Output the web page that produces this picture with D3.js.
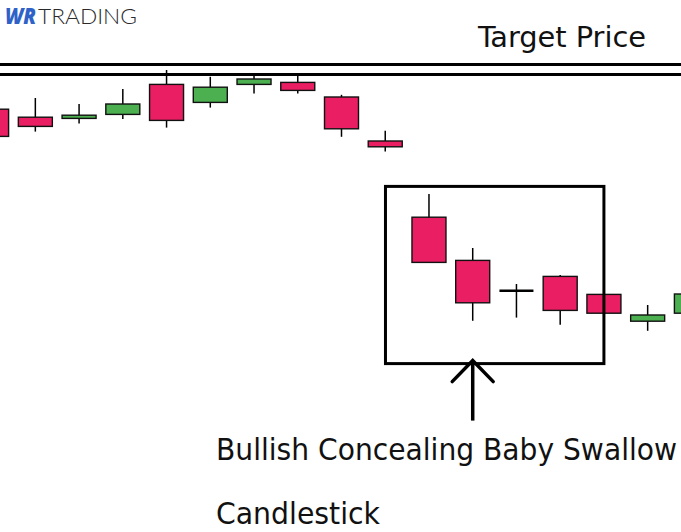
<!DOCTYPE html>
<html>
<head>
<meta charset="utf-8">
<script src="https://cdn.jsdelivr.net/npm/d3@7"></script>
<style>
  html, body { margin: 0; padding: 0; background: #fff; }
  svg { display: block; }
</style>
</head>
<body>
<svg id="chart" width="681" height="532"></svg>
<script>
// Candle sessions (index) and OHLC values in price units
const sessions = [0, 1, 2, 3, 4, 5, 6, 7, 8, 9, 10, 11, 12, 13, 14, 15, 16];
const opens  = [105.7, 103.7, 103.4, 104.4, 111.9, 107.4, 111.9, 112.4, 108.75, 97.75, 78.7, 67.9, 60.3, 63.9, 59.4, 52.7, 54.7];
const closes = [98.9, 101.4, 104.2, 107.0, 102.9, 111.2, 113.25, 110.4, 100.8, 96.3, 67.4, 57.3, 60.3, 55.4, 54.7, 54.25, 59.5];
const highs  = [105.7, 108.5, 107.0, 110.75, 115.5, 113.8, 114.5, 114.5, 109.3, 100.3, 84.5, 71.0, 62.0, 64.25, 59.4, 56.75, 59.5];
const lows   = [98.9, 100.1, 102.1, 103.25, 101.1, 106.1, 109.6, 109.6, 98.8, 95.1, 67.4, 52.8, 53.6, 51.8, 54.7, 50.3, 54.7];
const targetLevels = [116.9, 114.4];
const patternRange = { first: 10, last: 14, high: 86.4, low: 42.1 };
const labels = {
  target: "Target Price",
  pattern: ["Bullish Concealing Baby Swallow", "Candlestick"],
  logo: ["WR", "TRADING"]
};

const W = 681, H = 532;
const svg = d3.select("#chart");
svg.append("rect").attr("width", W).attr("height", H).attr("fill", "#fff");

const x = d3.scaleLinear().domain([0, 16]).range([-8.4, 691.4]);
const y = d3.scaleLinear().domain([0, 133]).range([H, 0]);
const bodyW = 34;
const RED = "#e91e63", GREEN = "#4caf50";

const data = sessions.map((s, i) => ({ s, o: opens[i], c: closes[i], h: highs[i], l: lows[i] }));

const g = svg.append("g");
const cg = g.selectAll("g.candle").data(data).enter().append("g").attr("class", "candle");

// wicks
cg.append("line")
  .attr("x1", d => x(d.s)).attr("x2", d => x(d.s))
  .attr("y1", d => y(d.h)).attr("y2", d => y(d.l))
  .attr("stroke", "#000").attr("stroke-width", 1.5);

// bodies
cg.filter(d => d.o !== d.c).append("rect")
  .attr("x", d => x(d.s) - bodyW / 2)
  .attr("width", bodyW)
  .attr("y", d => y(Math.max(d.o, d.c)))
  .attr("height", d => Math.abs(y(d.o) - y(d.c)))
  .attr("fill", d => d.c > d.o ? GREEN : RED)
  .attr("stroke", "#111").attr("stroke-width", 1.4);

// doji
cg.filter(d => d.o === d.c).append("line")
  .attr("x1", d => x(d.s) - bodyW / 2).attr("x2", d => x(d.s) + bodyW / 2)
  .attr("y1", d => y(d.o)).attr("y2", d => y(d.o))
  .attr("stroke", "#000").attr("stroke-width", 2.4);

// target price lines
svg.selectAll("line.target").data(targetLevels).enter().append("line")
  .attr("class", "target")
  .attr("x1", 0).attr("x2", W)
  .attr("y1", d => y(d)).attr("y2", d => y(d))
  .attr("stroke", "#000").attr("stroke-width", 3);

// pattern box
const bx0 = x(patternRange.first) - bodyW / 2 - 26.5;
const bx1 = x(patternRange.last);
svg.append("rect")
  .attr("x", bx0).attr("y", y(patternRange.high))
  .attr("width", bx1 - bx0).attr("height", y(patternRange.low) - y(patternRange.high))
  .attr("fill", "none").attr("stroke", "#000").attr("stroke-width", 3);

// arrow
const ax = x(11);
const aTop = y(patternRange.low) - 3, aBot = aTop + 60;
svg.append("line").attr("x1", ax).attr("x2", ax).attr("y1", aTop).attr("y2", aBot)
  .attr("stroke", "#000").attr("stroke-width", 3.5);
svg.append("path")
  .attr("d", `M${ax - 20.5},${aTop + 21} L${ax},${aTop} L${ax + 20.5},${aTop + 21}`)
  .attr("fill", "none").attr("stroke", "#000").attr("stroke-width", 3.5)
  .attr("stroke-linecap", "round").attr("stroke-linejoin", "miter");

// texts
const FONT = "'DejaVu Sans Condensed', 'DejaVu Sans', sans-serif";
svg.append("text").attr("x", 478).attr("y", 47)
  .attr("font-family", FONT).attr("font-size", 28).attr("fill", "#111")
  .attr("textLength", 168).attr("lengthAdjust", "spacingAndGlyphs")
  .text(labels.target);
svg.append("text").attr("x", 216).attr("y", 460)
  .attr("font-family", FONT).attr("font-size", 30).attr("fill", "#111")
  .attr("textLength", 461).attr("lengthAdjust", "spacingAndGlyphs")
  .text(labels.pattern[0]);
svg.append("text").attr("x", 216).attr("y", 524)
  .attr("font-family", FONT).attr("font-size", 30).attr("fill", "#111")
  .attr("textLength", 164).attr("lengthAdjust", "spacingAndGlyphs")
  .text(labels.pattern[1]);

// logo
svg.append("text").attr("x", 5).attr("y", 24)
  .attr("font-family", "'Open Sans', 'Noto Sans', sans-serif").attr("font-size", 22)
  .attr("font-weight", 800).attr("font-style", "italic").attr("fill", "#2f62c8")
  .attr("textLength", 31).attr("lengthAdjust", "spacingAndGlyphs")
  .text(labels.logo[0]);
svg.append("text").attr("x", 38).attr("y", 24)
  .attr("font-family", "Lato, 'Open Sans', sans-serif").attr("font-size", 22)
  .attr("font-weight", 300).attr("fill", "#2a2a2a")
  .attr("textLength", 99).attr("lengthAdjust", "spacingAndGlyphs")
  .text(labels.logo[1]);
</script>
</body>
</html>
